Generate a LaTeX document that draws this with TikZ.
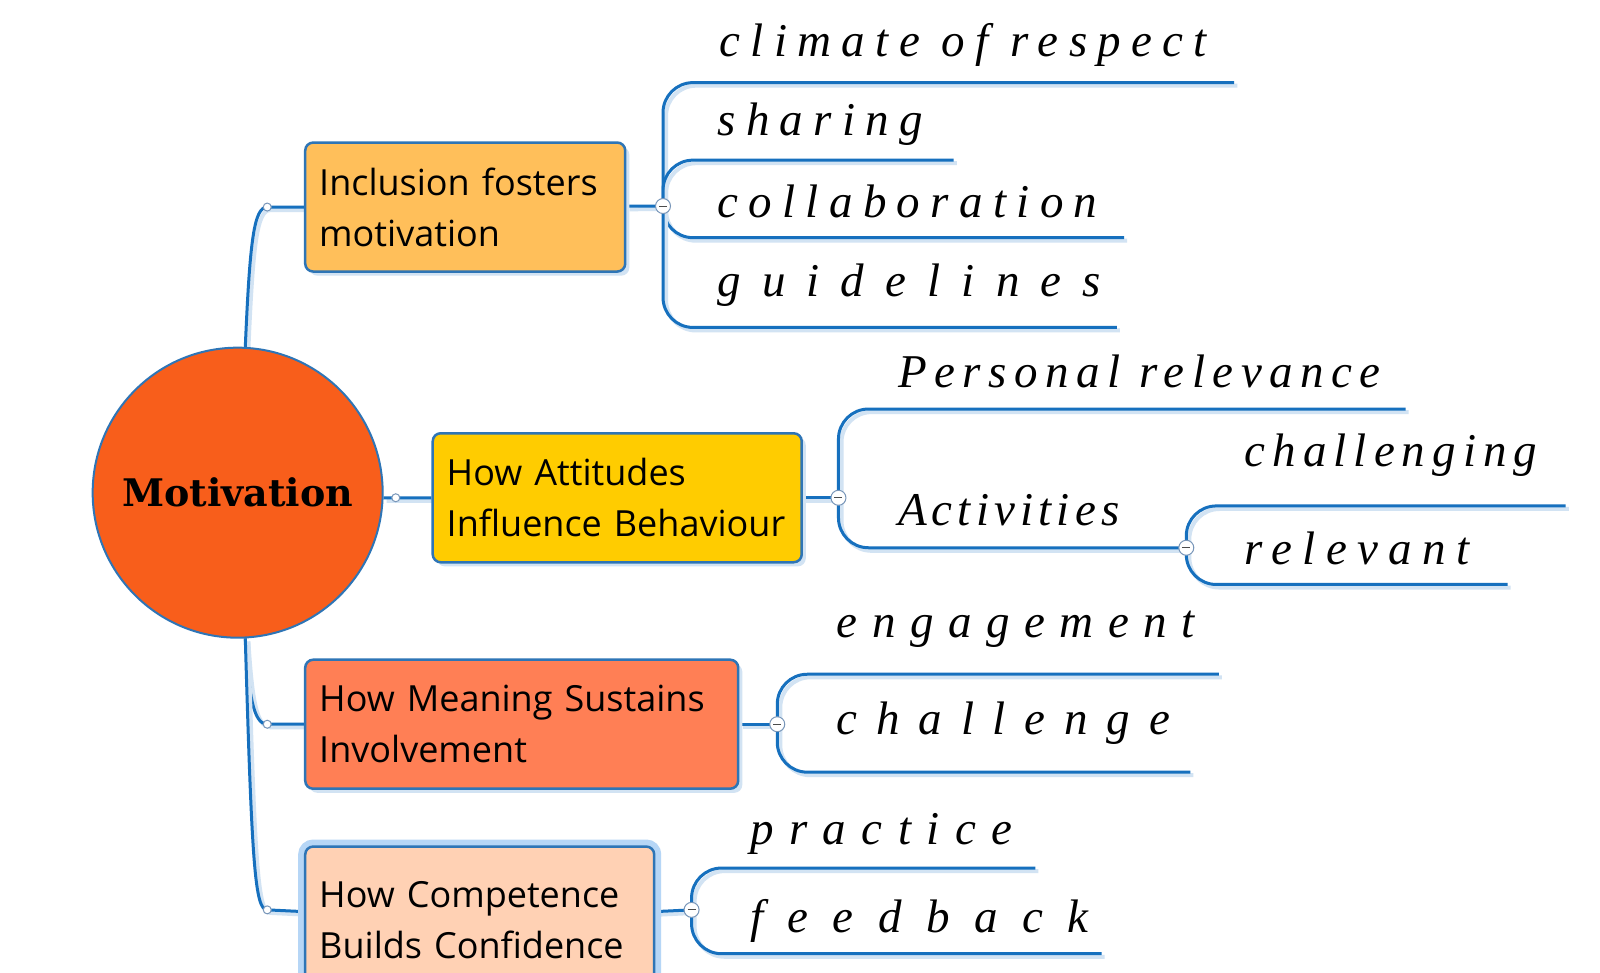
\documentclass[tikz,border=0pt]{standalone}
\usepackage{fontspec}
\setmainfont{Open Sans}
\newfontfamily\handfont{Liberation Serif}
\newfontfamily\titlefont{DejaVu Serif}
\usetikzlibrary{backgrounds}

\definecolor{linkblue}{RGB}{22,112,190}
\definecolor{rimblue}{RGB}{46,117,182}
\definecolor{shadeblue}{RGB}{210,227,243}
\definecolor{haloblue}{RGB}{182,214,246}
\definecolor{dotgrey}{RGB}{120,150,185}
\definecolor{motorange}{RGB}{248,94,27}
\definecolor{inclfill}{RGB}{255,191,90}
\definecolor{attfill}{RGB}{255,204,0}
\definecolor{meanfill}{RGB}{255,127,85}
\definecolor{compfill}{RGB}{255,209,180}

\begin{document}
\begin{tikzpicture}[x=1.02pt,y=-1.02pt,thick,
    hub/.style={circle,fill=motorange,draw=rimblue,line width=2pt,minimum size=290pt,inner sep=0pt,font=\titlefont\bfseries\fontsize{38}{38}\selectfont},
    topic/.style={rectangle,rounded corners=8pt,draw=rimblue,line width=2.5pt,anchor=west,align=left,inner xsep=14pt,minimum height=129pt,font=\fontsize{36}{51}\selectfont,preaction={fill=shadeblue,transform canvas={shift={(4,4)}}}},
    sel/.style={preaction={draw=haloblue,line width=14pt}},
    hand/.style={anchor=base west,inner sep=0pt,font=\handfont\addfontfeature{LetterSpace=#1}\itshape\fontsize{47}{47}\selectfont},
    hand/.default=22,
    branch/.style={draw=linkblue,line width=3pt,rounded corners=30pt,preaction={draw=shadeblue,line width=4pt,transform canvas={shift={(3,3)}}}},
    dot/.style={circle,draw=dotgrey,fill=white,line width=1pt,inner sep=0pt,minimum size=8pt},
    collapse/.style={circle,draw=dotgrey,fill=white,line width=1pt,inner sep=0pt,minimum size=15pt,
        path picture={\draw[line width=1pt,black!70] ([xshift=-4pt]path picture bounding box.center) -- ([xshift=4pt]path picture bounding box.center);}}]
    \useasboundingbox (0,0) rectangle (1568.6,953);

    % centre and the four topics
    \node[hub] (mot) at (233,483) {Motivation};
    \node[topic,fill=inclfill,text width=292pt] (incl) at (298,203) {Inclusion fosters\\motivation};
    \node[topic,fill=attfill,text width=341pt] (att) at (423,488) {How Attitudes\\Influence Behaviour};
    \node[topic,fill=meanfill,text width=405pt] (mean) at (298,710) {How Meaning Sustains\\Involvement};
    \node[topic,sel,fill=compfill,text width=321pt,minimum height=147pt] (comp) at (298,902) {How Competence\\Builds Confidence};

    \node[dot] (j1) at (262,203) {};
    \node[dot] (j2) at (388,488) {};
    \node[dot] (j3) at (262,710) {};
    \node[dot] (j4) at (262,892) {};

    \node[collapse] (c1) at (650,202) {};
    \node[collapse] (c2) at (822,488) {};
    \node[collapse] (c3) at (1163,537) {};
    \node[collapse] (c4) at (762,710) {};
    \node[collapse] (c5) at (678,892) {};

    % ends of the underlines
    \coordinate (u11) at (1210,81);
    \coordinate (u12) at (935,157);
    \coordinate (u13) at (1102,233);
    \coordinate (u14) at (1095,321);
    \coordinate (u21) at (1378,401);
    \coordinate (u31) at (1535,496);
    \coordinate (u32) at (1478,573);
    \coordinate (u41) at (1195,661);
    \coordinate (u42) at (1167,757);
    \coordinate (u51) at (1015,851);
    \coordinate (u52) at (1080,935);

    % handwritten notes
    \node[hand] (climate) at (705,55) {climate of respect};
    \node[hand] (sharing) at (703,133) {sharing};
    \node[hand] (collab) at (703,213) {collaboration};
    \node[hand=45] (guide) at (703,291) {guidelines};
    \node[hand=16] (pers) at (880,380) {Personal relevance};
    \node[hand=11] (activ) at (880,515) {Activities};
    \node[hand=15] (chall) at (1220,457) {challenging};
    \node[hand] (relev) at (1220,553) {relevant};
    \node[hand=31] (engage) at (820,625) {engagement};
    \node[hand=40] (challenge) at (820,720) {challenge};
    \node[hand=33] (practice) at (735,828) {practice};
    \node[hand=52] (feedback) at (735,914) {feedback};

    \begin{scope}[on background layer]
        \fill[white] (0,0) rectangle (1568.6,953);
        \path[branch,sharp corners] (mot.87) .. controls (245,235) and (249,203) .. (j1.center) -- (incl);
        \path[branch,sharp corners] (mot.-2) -- (j2.center) -- (att);
        \path[branch,sharp corners] (mot.-87) .. controls (244,680) and (248,710) .. (j3.center) -- (mean);
        \path[branch,sharp corners] (mot.-87) .. controls (247,850) and (250,892) .. (j4.center) -- (comp);

        \path[branch] (incl) -- (c1.center);
        \path[branch] (c1.center) |- (u11);
        \path[branch] (c1.center) |- (u12);
        \path[branch] (c1.center) |- (u13);
        \path[branch] (c1.center) |- (u14);

        \path[branch] (att) -- (c2.center);
        \path[branch] (c2.center) |- (u21);
        \path[branch] (c2.center) |- (c3.center);
        \path[branch] (c3.center) |- (u31);
        \path[branch] (c3.center) |- (u32);

        \path[branch] (mean) -- (c4.center);
        \path[branch] (c4.center) |- (u41);
        \path[branch] (c4.center) |- (u42);

        \path[branch] (comp) -- (c5.center);
        \path[branch] (c5.center) |- (u51);
        \path[branch] (c5.center) |- (u52);
    \end{scope}
\end{tikzpicture}
\end{document}
